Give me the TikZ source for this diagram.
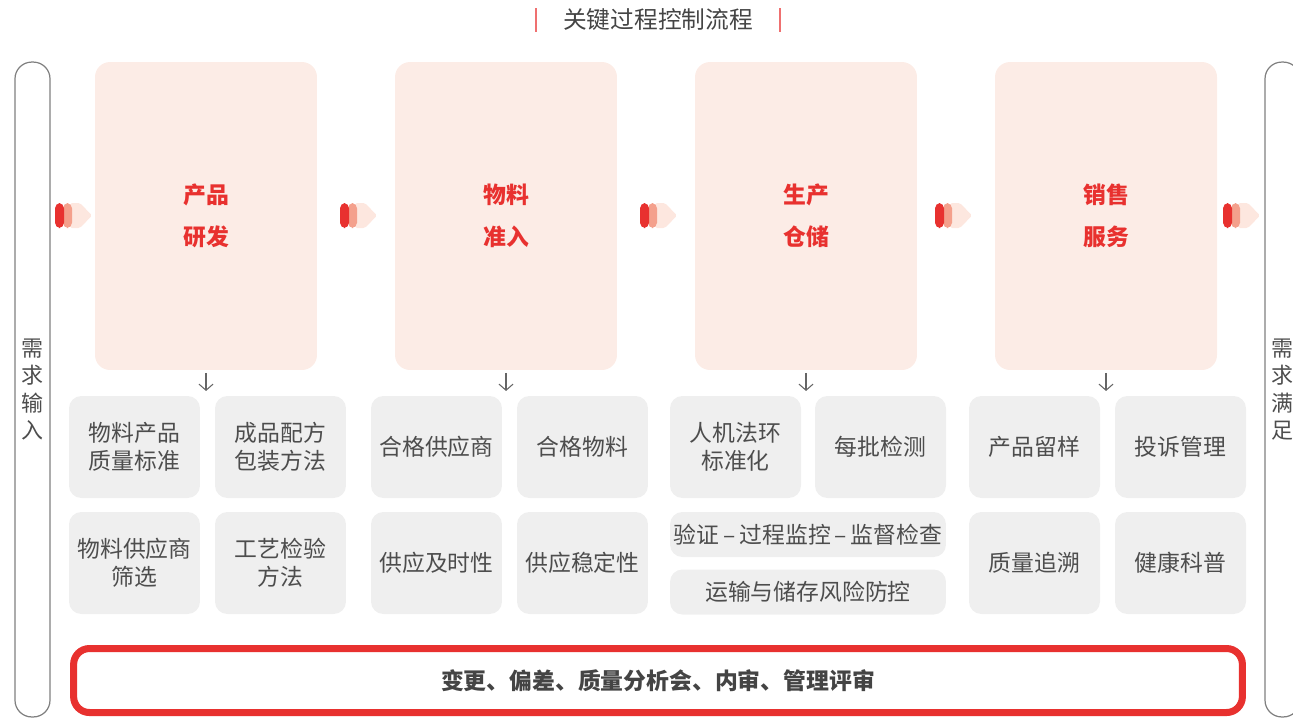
\documentclass[tikz,border=0pt]{standalone}
\usepackage{fontspec}
\setmainfont{Noto Sans CJK SC}
\usetikzlibrary{arrows.meta}
\definecolor{mainred}{HTML}{E8312F}
\definecolor{midred}{HTML}{F4A08C}
\definecolor{palered}{HTML}{FDE7DF}
\definecolor{barred}{HTML}{EF7070}
\definecolor{stagefill}{HTML}{FCECE6}
\definecolor{itemfill}{HTML}{EFEFEF}
\definecolor{itemtext}{HTML}{4D4D4D}
\definecolor{titlegray}{HTML}{444444}
\definecolor{pillgray}{HTML}{808080}
\tikzstyle{stage} = [rounded corners=8.5pt, fill=stagefill, minimum width=4.44cm, minimum height=6.16cm, text=mainred, align=center, font=\bfseries\fontsize{13}{24}\selectfont]
\tikzstyle{item} = [rounded corners=7pt, fill=itemfill, minimum width=2.62cm, minimum height=2.04cm, inner sep=2pt, text=itemtext, align=center, font=\fontsize{13}{16}\selectfont]
\tikzstyle{wideitem} = [item, minimum width=5.52cm, minimum height=0.9cm]
\tikzstyle{pill} = [draw=pillgray, line width=0.7pt, rounded corners=9.5pt, minimum width=0.7cm, minimum height=13.1cm, inner sep=1pt, text=itemtext, align=center, font=\fontsize{12.5}{15.5}\selectfont]
\tikzstyle{down} = [draw=black!60, line width=0.6pt, -{Straight Barb[length=3.5pt,width=8pt]}]

\begin{document}
\begin{tikzpicture}[x=0.02cm, y=-0.02cm]
	\useasboundingbox (0,0) rectangle (1293,718);
	% title
	\node[font=\fontsize{13.5}{16}\selectfont, text=titlegray] (title) at (658,20) {关键过程控制流程};
	\draw[barred, line width=1pt] (536,8) -- (536,32);
	\draw[barred, line width=1pt] (780,8) -- (780,32);

	% input / output
	\node[pill] (inpill) at (32.5,389.5) {需\\求\\输\\入};
	\node[pill] (outpill) at (1282.5,389.5) {需\\求\\满\\足};

	% stages
	\node[stage] (rd) at (206,216) {产品\\研发};
	\node[stage] (wl) at (506,216) {物料\\准入};
	\node[stage] (sc) at (806,216) {生产\\仓储};
	\node[stage] (xs) at (1106,216) {销售\\服务};

	% chevrons
	\foreach \x in {55,340,640,935,1223} {
		\fill[palered, rounded corners=1pt] (\x+15,203) -- (\x+25,203) -- (\x+37,215.5) -- (\x+25,228) -- (\x+15,228) -- cycle;
		\fill[midred, rounded corners=3pt] (\x+8,203) rectangle (\x+17,228);
		\fill[mainred, rounded corners=3pt] (\x,203) rectangle (\x+9,228);
	}

	\draw[down] ([yshift=-1.5pt]rd.south) -- ++(0,18);
	\draw[down] ([yshift=-1.5pt]wl.south) -- ++(0,18);
	\draw[down] ([yshift=-1.5pt]sc.south) -- ++(0,18);
	\draw[down] ([yshift=-1.5pt]xs.south) -- ++(0,18);

	% items
	\node[item] (rd1) at (134.5,447) {物料产品\\质量标准};
	\node[item] (rd2) at (280.5,447) {成品配方\\包装方法};
	\node[item] (rd3) at (134.5,563) {物料供应商\\筛选};
	\node[item] (rd4) at (280.5,563) {工艺检验\\方法};

	\node[item] (wl1) at (436.5,447) {合格供应商};
	\node[item] (wl2) at (582.5,447) {合格物料};
	\node[item] (wl3) at (436.5,563) {供应及时性};
	\node[item] (wl4) at (582.5,563) {供应稳定性};

	\node[item] (sc1) at (735.5,447) {人机法环\\标准化};
	\node[item] (sc2) at (880.5,447) {每批检测};
	\node[wideitem] (sc3) at (808,534.5) {验证\,–\,过程监控\,–\,监督检查};
	\node[wideitem] (sc4) at (808,592) {运输与储存风险防控};

	\node[item] (xs1) at (1034.5,447) {产品留样};
	\node[item] (xs2) at (1180.5,447) {投诉管理};
	\node[item] (xs3) at (1034.5,563) {质量追溯};
	\node[item] (xs4) at (1180.5,563) {健康科普};

	% review
	\node[draw=mainred, line width=4pt, rounded corners=9pt, minimum width=23.38cm, minimum height=1.28cm, text=titlegray, font=\bfseries\fontsize{13}{16}\selectfont] (review) at (658,680.5) {变更、偏差、质量分析会、内审、管理评审};
\end{tikzpicture}
\end{document}
